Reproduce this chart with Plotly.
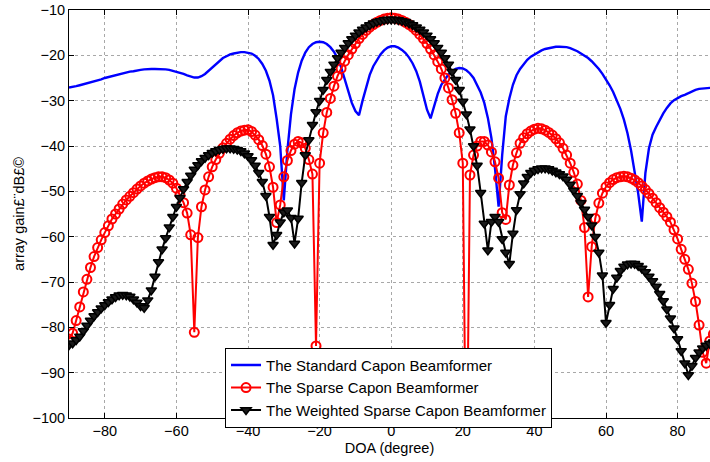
import plotly.graph_objects as go

doa = list(range(-90, 91))

standard_capon = [
    -27.1, -27.0, -26.8, -26.6, -26.4, -26.1, -25.9, -25.7, -25.5, -25.3,
    -25.0, -24.8, -24.5, -24.3, -24.1, -23.9, -23.7, -23.6, -23.5, -23.3,
    -23.2, -23.1, -23.0, -23.0, -23.0, -23.0, -23.0, -23.1, -23.2, -23.4,
    -23.6, -23.8, -24.1, -24.4, -24.7, -24.9, -24.9, -24.6, -24.1, -23.4,
    -22.6, -21.9, -21.2, -20.6, -20.2, -19.8, -19.6, -19.4, -19.3, -19.3,
    -19.4, -19.6, -20.1, -20.8, -21.9, -23.4, -25.6, -28.8, -34.0, -40.0,
    -52.0, -41.0, -33.0, -27.5, -23.8, -21.2, -19.4, -18.2, -17.5, -17.1,
    -17.0, -17.1, -17.5, -18.2, -19.2, -20.6, -22.6, -25.3, -28.0, -30.5,
    -32.3, -33.2, -30.0, -26.9, -24.3, -22.4, -21.0, -19.8, -18.9, -18.3,
    -18.0,
    -18.0, -18.3, -18.8, -19.5, -20.5, -21.8, -23.5, -25.8, -28.8, -32.0,
    -33.9, -31.0, -28.5, -26.5, -25.2, -24.2, -23.5, -23.0, -22.8, -22.9,
    -23.3, -24.0, -25.0, -26.5, -28.2, -30.5, -33.8, -38.3, -45.0, -53.4,
    -42.0, -33.5, -29.5, -26.5, -24.4, -23.0, -21.9, -21.0, -20.3, -19.8,
    -19.3, -18.9, -18.6, -18.4, -18.2, -18.1, -18.1, -18.1, -18.2, -18.4,
    -18.7, -19.1, -19.6, -20.1, -20.6, -21.3, -22.1, -23.0, -24.1, -25.3,
    -26.6, -28.1, -29.8, -31.8, -34.2, -37.2, -41.0, -45.5, -50.5, -56.7,
    -46.0, -40.5, -37.5, -35.8, -34.2, -32.8, -31.6, -30.6, -29.9, -29.4,
    -29.0, -28.7, -28.3, -27.9, -27.6, -27.4, -27.3, -27.2, -27.1, -27.1,
]

sparse_capon = [
    -82.6, -81.3, -78.5, -75.5, -72.2, -69.4, -66.8, -64.4, -62.4, -60.7,
    -59.1, -57.6, -56.1, -55.0, -53.9, -52.8, -51.9, -51.1, -50.3, -49.5,
    -48.8, -48.2, -47.7, -47.3, -47.0, -46.8, -46.8, -47.0, -47.5, -48.2,
    -49.3, -50.8, -52.5, -54.8, -59.6, -81.1, -60.2, -53.4, -49.7, -46.8,
    -44.6, -43.0, -41.6, -40.4, -39.4, -38.5, -37.7, -37.1, -36.7, -36.5,
    -36.4, -36.8, -37.6, -38.6, -39.9, -41.8, -44.6, -49.1, -56.9, -53.0,
    -46.8, -43.2, -41.0, -39.6, -39.0, -39.3, -40.5, -43.0, -46.2, -84.1,
    -43.8, -37.1, -32.6, -29.5, -26.8, -24.6, -22.9, -21.3, -19.9, -18.6,
    -17.4, -16.3, -15.4, -14.5, -13.8, -13.2, -12.7, -12.3, -12.0, -11.8,
    -11.7,
    -11.8, -12.0, -12.3, -12.7, -13.2, -13.8, -14.5, -15.4, -16.3, -17.4,
    -18.6, -19.9, -21.4, -23.0, -25.0, -27.2, -29.8, -32.8, -37.1, -43.8,
    -120.0, -46.4, -42.0, -40.0, -39.0, -39.0, -39.8, -41.3, -43.5, -47.1,
    -54.7, -56.2, -48.6, -44.2, -41.5, -39.4, -38.2, -37.3, -36.7, -36.3,
    -36.1, -36.2, -36.5, -37.0, -37.6, -38.4, -39.3, -40.5, -42.0, -43.8,
    -45.8, -48.4, -52.0, -58.0, -73.3, -62.2, -56.0, -52.6, -50.4, -49.0,
    -48.1, -47.4, -47.0, -46.8, -46.7, -46.8, -47.1, -47.5, -48.1, -48.8,
    -49.6, -50.5, -51.5, -52.5, -53.6, -54.6, -55.6, -56.8, -58.5, -60.5,
    -62.8, -65.0, -67.2, -70.3, -74.3, -79.5, -85.5, -87.9, -83.0, -81.5,
]

weighted_sparse_capon = [
    -83.9, -83.5, -82.8, -82.0, -80.8, -79.6, -78.5, -77.5, -76.6, -75.8,
    -75.1, -74.4, -73.8, -73.3, -72.9, -72.8, -72.9, -73.2, -73.8, -74.5,
    -75.3, -75.7, -74.0, -71.8, -68.8, -65.6, -62.8, -60.3, -57.9, -55.6,
    -53.4, -51.4, -49.5, -47.9, -46.5, -45.2, -44.2, -43.3, -42.6, -42.0,
    -41.5, -41.1, -40.8, -40.6, -40.5, -40.5, -40.6, -40.8, -41.1, -41.6,
    -42.2, -43.1, -44.3, -45.9, -47.9, -51.0, -55.6, -61.8, -59.6, -56.8,
    -54.6, -54.2, -55.8, -61.5, -56.0, -48.1, -42.0, -38.7, -35.3, -32.5,
    -30.0, -27.6, -25.4, -23.6, -22.0, -20.6, -19.4, -18.3, -17.3, -16.4,
    -15.6, -14.9, -14.3, -13.8, -13.3, -12.9, -12.6, -12.4, -12.2, -12.1,
    -12.1,
    -12.1, -12.2, -12.4, -12.6, -12.9, -13.3, -13.8, -14.3, -14.9, -15.6,
    -16.4, -17.3, -18.3, -19.4, -20.6, -22.0, -23.6, -25.4, -27.6, -30.2,
    -33.0, -36.3, -40.0, -44.3, -50.3, -57.1, -63.0, -56.7, -55.6, -56.7,
    -60.5, -63.5, -66.0, -59.3, -54.1, -50.6, -48.2, -46.8, -45.9, -45.4,
    -45.1, -44.9, -44.9, -45.1, -45.4, -45.8, -46.2, -46.7, -47.4, -48.5,
    -49.8, -51.0, -52.5, -54.0, -55.6, -57.5, -60.0, -63.5, -68.5, -79.0,
    -75.0, -71.5, -69.0, -67.5, -66.6, -66.1, -65.9, -66.0, -66.4, -67.0,
    -67.8, -68.8, -69.8, -71.0, -72.6, -74.2, -76.0, -78.0, -80.2, -82.6,
    -85.2, -87.9, -90.5, -88.5, -86.7, -85.5, -84.6, -84.0, -83.6, -83.3,
]

x_ticks = [-80, -60, -40, -20, 0, 20, 40, 60, 80]
y_ticks = [-100, -90, -80, -70, -60, -50, -40, -30, -20, -10]

FONT = "Liberation Sans, Arial, sans-serif"

fig = go.Figure()
fig.add_trace(go.Scatter(
    x=doa, y=standard_capon, mode="lines",
    name="The Standard Capon Beamformer",
    line=dict(color="#0000ff", width=2.4),
))
fig.add_trace(go.Scatter(
    x=doa, y=sparse_capon, mode="lines+markers",
    name="The Sparse Capon Beamformer",
    line=dict(color="#ff0000", width=2),
    marker=dict(symbol="circle-open", size=9, color="#ff0000",
                line=dict(width=2, color="#ff0000")),
))
fig.add_trace(go.Scatter(
    x=doa, y=weighted_sparse_capon, mode="lines+markers",
    name="The Weighted Sparse Capon Beamformer",
    line=dict(color="#000000", width=2),
    marker=dict(symbol="triangle-down", size=9, color="#1a1a1a",
                line=dict(width=1.5, color="#000000")),
))

axis_common = dict(
    showgrid=True, gridcolor="#a8a8a8", griddash="dot", gridwidth=1,
    zeroline=False, showline=True, linecolor="black", linewidth=1,
    ticks="inside", ticklen=5, tickcolor="black",
    tickfont=dict(family=FONT, size=14.5, color="black"),
)

fig.update_layout(
    width=710, height=462,
    margin=dict(l=69, r=0, t=10, b=44),
    paper_bgcolor="white", plot_bgcolor="white",
    font=dict(family=FONT, size=14.5, color="black"),
    xaxis=dict(range=[-90, 89.05], tickvals=x_ticks, mirror="ticks",
               title=dict(text="DOA (degree)", standoff=4,
                          font=dict(family=FONT, size=14.5)),
               **axis_common),
    yaxis=dict(range=[-100, -10], tickvals=y_ticks,
               title=dict(text="array gain£¨dB£©", standoff=4,
                          font=dict(family=FONT, size=14.5)),
               **axis_common),
    legend=dict(x=0.2434, y=0.172, xanchor="left", yanchor="top",
                bgcolor="white", bordercolor="black", borderwidth=1,
                font=dict(family=FONT, size=15, color="black"),
                tracegroupgap=0, itemwidth=30),
    showlegend=True,
)

fig.write_html("out.html")
